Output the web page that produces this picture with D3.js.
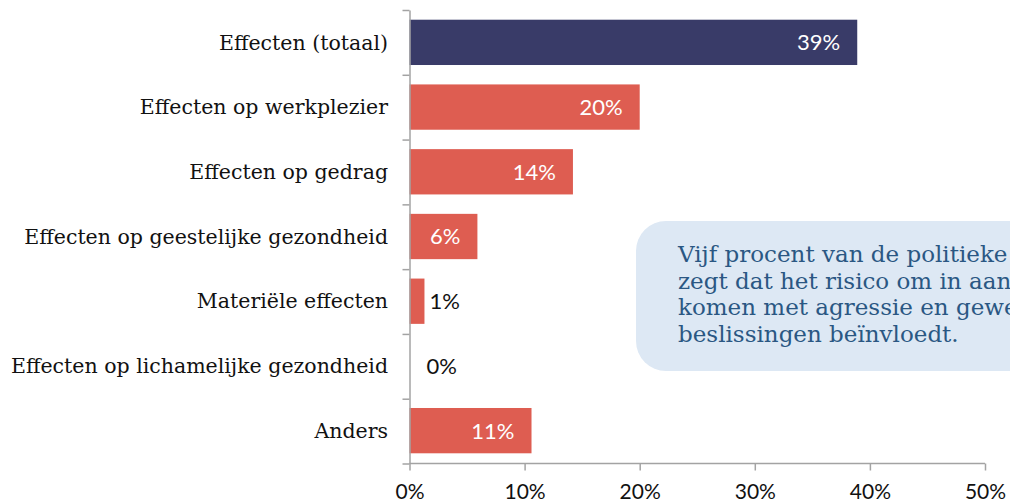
<!DOCTYPE html>
<html>
<head>
<meta charset="utf-8">
<script src="https://cdn.jsdelivr.net/npm/d3@7"></script>
<style>
  html, body { margin: 0; padding: 0; background: #fff; overflow: hidden; }
  svg { display: block; }
  .cat { font-family: "DejaVu Serif", serif; font-size: 20.5px; fill: #111; }
  .val { font-family: Lato, "Noto Sans", sans-serif; font-size: 22px; }
  .xaxis text { font-family: Lato, "Noto Sans", sans-serif; font-size: 21px; fill: #111; }
  .note { font-family: "DejaVu Serif", serif; font-size: 23px; fill: #2a5783; }
</style>
</head>
<body>
<svg id="chart" width="1010" height="502"></svg>
<script>
// categories + percentages
const categories = [
  'Effecten (totaal)',
  'Effecten op werkplezier',
  'Effecten op gedrag',
  'Effecten op geestelijke gezondheid',
  'Materiële effecten',
  'Effecten op lichamelijke gezondheid',
  'Anders'
];
const values = [38.9, 20.0, 14.2, 5.9, 1.3, 0, 10.6];
const labels = ['39%', '20%', '14%', '6%', '1%', '0%', '11%'];
const xTicks = [0, 10, 20, 30, 40, 50];
const noteLines = [
  'Vijf procent van de politieke ambtsdragers',
  'zegt dat het risico om in aanraking te',
  'komen met agressie en geweld hun',
  'beslissingen beïnvloedt.'
];

const NAVY = '#393b68';
const RED = '#de5d51';
const AXIS = '#a3a3a3';

const svg = d3.select('#chart');

const x = d3.scaleLinear().domain([0, 50]).range([409.5, 985]);
const y = d3.scaleBand().domain(categories).range([10, 463])
  .paddingInner(0.3).paddingOuter(0.15);
const yEdge = d3.scaleLinear().domain([0, categories.length]).range([10, 463.5]);

// callout box (sits behind, runs off the right edge like the original)
const note = svg.append('g');
note.append('rect')
  .attr('x', 636).attr('y', 221)
  .attr('width', 420).attr('height', 150)
  .attr('rx', 30).attr('ry', 30)
  .attr('fill', '#dde8f4');
note.selectAll('text').data(noteLines).join('text')
  .attr('class', 'note')
  .attr('x', 678)
  .attr('y', (d, i) => 262 + i * 26.7)
  .text(d => d);

// bars
svg.append('g').selectAll('rect')
  .data(values)
  .join('rect')
  .attr('x', x(0))
  .attr('y', (d, i) => y(categories[i]))
  .attr('width', d => x(d) - x(0))
  .attr('height', y.bandwidth())
  .attr('fill', (d, i) => i === 0 ? NAVY : RED);

// value labels: inside when the bar is wide enough, else just after it
svg.append('g').selectAll('text')
  .data(values)
  .join('text')
  .attr('class', 'val')
  .each(function (d, i) {
    const inside = d >= 3;
    const t = d3.select(this);
    t.attr('y', y(categories[i]) + y.bandwidth() / 2)
      .attr('dy', '0.36em')
      .attr('fill', inside ? '#fff' : '#111')
      .text(labels[i]);
    if (inside) t.attr('x', x(d) - 17).attr('text-anchor', 'end');
    else t.attr('x', Math.max(x(d) + 5, x(0) + 17)).attr('text-anchor', 'start');
  });

// category labels
svg.append('g').selectAll('text')
  .data(categories)
  .join('text')
  .attr('class', 'cat')
  .attr('x', 388)
  .attr('y', d => y(d) + y.bandwidth() / 2)
  .attr('dy', '0.35em')
  .attr('text-anchor', 'end')
  .text(d => d);

// y axis: ticks on the band edges
const yAxis = svg.append('g')
  .attr('transform', `translate(${x(0)},0)`)
  .call(d3.axisLeft(yEdge).tickValues(d3.range(categories.length + 1))
    .tickFormat('').tickSize(7).tickSizeOuter(0));
yAxis.selectAll('path, line').attr('stroke', AXIS).attr('stroke-width', 1.5);

// x axis
const xAxis = svg.append('g')
  .attr('class', 'xaxis')
  .attr('transform', 'translate(0,463.5)')
  .call(d3.axisBottom(x).tickValues(xTicks).tickFormat(d => d + '%')
    .tickSize(7).tickSizeOuter(0).tickPadding(14));
xAxis.selectAll('path, line').attr('stroke', AXIS).attr('stroke-width', 1.5);
xAxis.select('.domain').attr('d', `M${x(0)},0H${x(50)}`);
</script>
</body>
</html>
